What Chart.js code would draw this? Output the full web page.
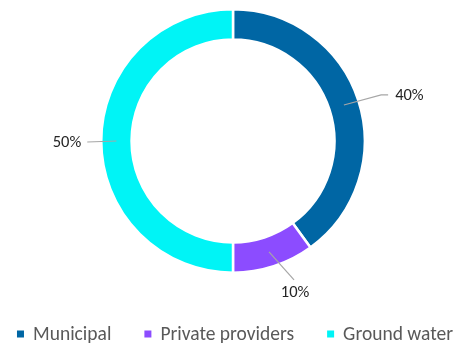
<!DOCTYPE html>
<html>
<head>
<meta charset="utf-8">
<script src="https://cdn.jsdelivr.net/npm/chart.js@4/dist/chart.umd.min.js"></script>
<style>
  html, body { margin: 0; padding: 0; background: #fff; }
  #wrap { width: 464px; height: 347px; position: relative; }
</style>
</head>
<body>
<div id="wrap"><canvas id="c" width="464" height="347"></canvas></div>
<script>
// Water source shares (percent)
const categories = ['Municipal', 'Private providers', 'Ground water'];
const shares = [40, 10, 50];
const valueLabels = ['40%', '10%', '50%'];
const colors = ['#0066a4', '#8c4cff', '#00f4f6'];

const FONT = 'Carlito, Lato, "Liberation Sans", sans-serif';

// Leader lines and percentage labels around the ring
const leaderLabels = {
  id: 'leaderLabels',
  afterDatasetsDraw(chart) {
    const ctx = chart.ctx;
    const meta = chart.getDatasetMeta(0);
    ctx.save();
    ctx.font = '16.5px ' + FONT;
    ctx.fillStyle = '#262626';
    ctx.strokeStyle = '#a6a6a6';
    ctx.lineWidth = 1.2;
    meta.data.forEach((arc, i) => {
      const { x, y, startAngle, endAngle, innerRadius, outerRadius } = arc.getProps(['x', 'y', 'startAngle', 'endAngle', 'innerRadius', 'outerRadius'], true);
      const mid = (startAngle + endAngle) / 2;
      const cos = Math.cos(mid), sin = Math.sin(mid);
      const rIn = (innerRadius + outerRadius) / 2;
      const x0 = x + cos * rIn, y0 = y + sin * rIn;
      ctx.beginPath();
      ctx.moveTo(x0, y0);
      if (Math.abs(sin) > 0.8) {
        // bottom/top slice: slanted leader, label centred below/above
        const x1 = x0 + 25, y1 = y0 + (sin > 0 ? 28 : -28);
        ctx.lineTo(x1, y1);
        ctx.stroke();
        ctx.textAlign = 'center';
        ctx.textBaseline = 'middle';
        ctx.fillText(valueLabels[i], x1 + 1, y1 + (sin > 0 ? 13 : -13));
      } else if (cos > 0) {
        // right side: leader with a short horizontal tail
        const rOut = outerRadius + 24;
        const x1 = x + cos * rOut, y1 = y + sin * rOut + 2;
        ctx.lineTo(x1, y1);
        ctx.lineTo(x1 + 7, y1);
        ctx.stroke();
        ctx.textAlign = 'left';
        ctx.textBaseline = 'middle';
        ctx.fillText(valueLabels[i], x1 + 14, y1 + 1);
      } else {
        // left side: straight leader, label right-aligned
        const rOut = outerRadius + 14;
        const x1 = x + cos * rOut, y1 = y + sin * rOut;
        ctx.lineTo(x1, y1 + 1);
        ctx.stroke();
        ctx.textAlign = 'right';
        ctx.textBaseline = 'middle';
        ctx.fillText(valueLabels[i], x1 - 6, y1 + 2);
      }
    });
    ctx.restore();
  }
};

// Single-row legend along the bottom edge, centred on the canvas
const bottomLegend = {
  id: 'bottomLegend',
  afterDraw(chart) {
    const ctx = chart.ctx;
    const box = 7, boxGap = 9, itemGap = 33;
    ctx.save();
    ctx.font = '19.5px ' + FONT;
    const widths = categories.map(t => ctx.measureText(t).width);
    const total = widths.reduce((s, w) => s + box + boxGap + w, 0) + itemGap * (categories.length - 1);
    let x = (chart.width - total) / 2 + 3;
    const y = 334;
    ctx.textBaseline = 'middle';
    ctx.textAlign = 'left';
    categories.forEach((t, i) => {
      ctx.fillStyle = colors[i];
      ctx.fillRect(x, y - box / 2, box, box);
      x += box + boxGap;
      ctx.fillStyle = '#595959';
      ctx.fillText(t, x, y + 1);
      x += widths[i] + itemGap;
    });
    ctx.restore();
  }
};

new Chart(document.getElementById('c'), {
  type: 'doughnut',
  data: {
    labels: categories,
    datasets: [{
      data: shares,
      backgroundColor: colors,
      borderColor: '#ffffff',
      borderWidth: 2.5,
      hoverOffset: 0
    }]
  },
  options: {
    responsive: false,
    animation: false,
    cutout: '77%',
    layout: { padding: { top: 8, left: 100, right: 98, bottom: 73 } },
    plugins: {
      tooltip: { enabled: false },
      legend: { display: false }
    }
  },
  plugins: [leaderLabels, bottomLegend]
});
</script>
</body>
</html>
